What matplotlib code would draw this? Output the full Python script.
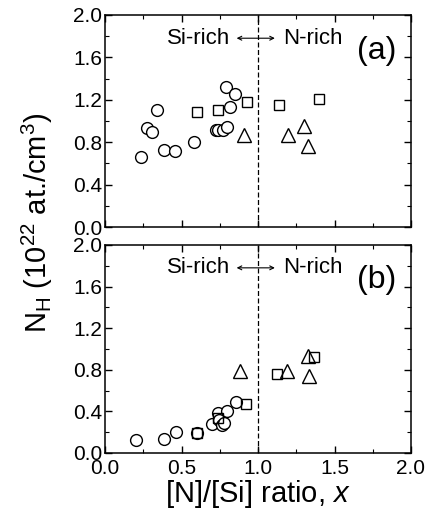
import numpy as np
import matplotlib
matplotlib.use("Agg")
import matplotlib.pyplot as plt
from matplotlib.ticker import MultipleLocator

plt.rcParams['font.family'] = ['Liberation Sans', 'DejaVu Sans']
plt.rcParams['mathtext.fontset'] = 'custom'
plt.rcParams['mathtext.rm'] = 'Liberation Sans'
plt.rcParams['mathtext.it'] = 'Liberation Sans:italic'

# panel (a)
a_circ_x = [0.235, 0.277, 0.305, 0.34, 0.383, 0.46, 0.584, 0.723, 0.74, 0.769, 0.795, 0.789, 0.852, 0.817]
a_circ_y = [0.66, 0.93, 0.90, 1.10, 0.73, 0.72, 0.80, 0.91, 0.91, 0.915, 0.94, 1.32, 1.25, 1.13]
a_sq_x = [0.601, 0.736, 0.926, 1.135, 1.40]
a_sq_y = [1.08, 1.10, 1.18, 1.15, 1.21]
a_tri_x = [0.908, 1.194, 1.30, 1.327]
a_tri_y = [0.87, 0.87, 0.95, 0.76]

# panel (b)
b_circ_x = [0.205, 0.388, 0.464, 0.60, 0.70, 0.741, 0.747, 0.762, 0.775, 0.80, 0.858]
b_circ_y = [0.125, 0.13, 0.20, 0.19, 0.275, 0.38, 0.32, 0.27, 0.29, 0.40, 0.49]
b_sq_x = [0.604, 0.74, 0.92, 1.124, 1.366]
b_sq_y = [0.19, 0.34, 0.47, 0.76, 0.92]
b_tri_x = [0.882, 1.187, 1.329, 1.333]
b_tri_y = [0.79, 0.79, 0.93, 0.74]

panels = [
    ("(a)", a_circ_x, a_circ_y, a_sq_x, a_sq_y, a_tri_x, a_tri_y),
    ("(b)", b_circ_x, b_circ_y, b_sq_x, b_sq_y, b_tri_x, b_tri_y),
]

fig = plt.figure(figsize=(4.29, 5.13), dpi=100)
ax_a = fig.add_axes([0.245, 0.5575, 0.713, 0.4135])
ax_b = fig.add_axes([0.245, 0.117, 0.713, 0.4055])

for ax, (lab, cx, cy, sx, sy, tx, ty) in zip([ax_a, ax_b], panels):
    ax.plot(cx, cy, 'o', ms=8.5, mfc='white', mec='black', mew=1.0, ls='none')
    ax.plot(sx, sy, 's', ms=7.5, mfc='none', mec='black', mew=1.0, ls='none')
    ax.plot(tx, ty, '^', ms=10, mfc='none', mec='black', mew=1.0, ls='none')
    ax.axvline(1.0, color='black', ls=(0, (4, 2)), lw=0.9)
    ax.text(0.61, 1.78, "Si-rich", ha='center', va='center', fontsize=16)
    ax.text(1.36, 1.78, "N-rich", ha='center', va='center', fontsize=16)
    ax.annotate("", xy=(0.86, 1.78), xytext=(1.11, 1.78),
                arrowprops=dict(arrowstyle='<->', lw=0.8, color='black',
                                shrinkA=0, shrinkB=0, mutation_scale=7))
    ax.text(1.775, 1.66, lab, ha='center', va='center', fontsize=23)
    ax.set_xlim(0, 2.0)
    ax.set_ylim(0, 2.0)
    ax.xaxis.set_major_locator(MultipleLocator(0.5))
    ax.xaxis.set_minor_locator(MultipleLocator(0.25))
    ax.yaxis.set_major_locator(MultipleLocator(0.4))
    ax.yaxis.set_minor_locator(MultipleLocator(0.2))
    ax.tick_params(which='both', direction='in', top=True, right=True, labelsize=15)
    ax.tick_params(which='major', length=5, width=1.0, pad=2)
    ax.tick_params(which='minor', length=3, width=0.8)
    ax.yaxis.set_major_formatter(matplotlib.ticker.FormatStrFormatter('%.1f'))
    ax.xaxis.set_major_formatter(matplotlib.ticker.FormatStrFormatter('%.1f'))
    for s in ax.spines.values():
        s.set_linewidth(1.1)

ax_a.tick_params(labelbottom=False)
ax_b.tick_params(axis='x', pad=4)
ax_b.set_xlabel(r'[N]/[Si] ratio, $\mathit{x}$', fontsize=21, labelpad=0)
fig.text(0.087, 0.565, r'N$_\mathrm{H}$ (10$^{22}$ at./cm$^3$)', rotation=90,
         ha='center', va='center', fontsize=21)

fig.savefig("out.png", dpi=100)
